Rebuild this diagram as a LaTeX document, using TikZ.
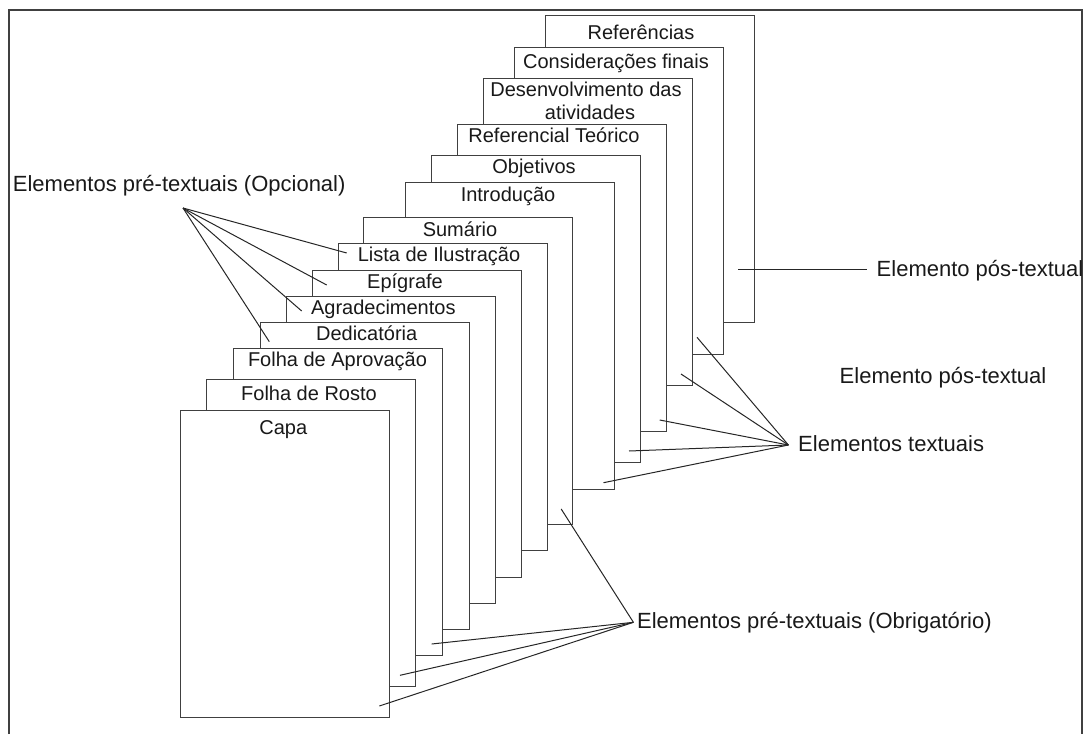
\documentclass[tikz,border=0pt]{standalone}
\usepackage{fontspec}
\setmainfont{Liberation Sans}
\begin{document}
\begin{tikzpicture}[x=1pt,y=-1pt,
  page/.style={draw=black!75, line width=1.1pt, fill=white, inner sep=0pt, anchor=north west, minimum width=209pt, minimum height=307pt},
  plabel/.style={font=\fontsize{20}{24}\selectfont, anchor=base, inner sep=0pt, text=black!90},
  clabel/.style={font=\fontsize{22}{26}\selectfont, anchor=base west, inner sep=0pt, text=black!90},
  conn/.style={draw=black!85, line width=1pt},
  frame/.style={draw=black!75, line width=1.2pt}]
\useasboundingbox (0,0) rectangle (1084,734);
% outer frame (open at the bottom)
\draw[frame] (9,734) -- (9,10) -- (1082,10) -- (1082,734);

% pages, back to front
\node[page] (ref)  at (545,15)  {};
\node[page] (cons) at (514,47)  {};
\node[page] (dev)  at (483,78)  {};
\node[page] (reft) at (457,124) {};
\node[page] (obj)  at (431,155) {};
\node[page] (intr) at (405,182) {};
\node[page] (sum)  at (363,217) {};
\node[page] (lis)  at (338,243) {};
\node[page] (epi)  at (312,270) {};
\node[page] (agr)  at (286,296) {};
\node[page] (ded)  at (260,322) {};
\node[page] (apr)  at (233,348) {};
\node[page] (ros)  at (206,379) {};
\node[page] (capa) at (180,410) {};

% page labels
\node[plabel] (tref)  at (641,39.3)  {Referências};
\node[plabel] (tcons) at (616,68.3)  {Considerações finais};
\node[plabel] (tdev1) at (586,96.7)  {Desenvolvimento das};
\node[plabel] (tdev2) at (590,119.3) {atividades};
\node[plabel] (treft) at (554,142.7) {Referencial Teórico};
\node[plabel] (tobj)  at (534,173.3) {Objetivos};
\node[plabel] (tintr) at (508,201.7) {Introdução};
\node[plabel] (tsum)  at (460,236)   {Sumário};
\node[plabel] (tlis)  at (439,261.7) {Lista de Ilustração};
\node[plabel] (tepi)  at (405,288.3) {Epígrafe};
\node[plabel] (tagr)  at (383.3,314) {Agradecimentos};
\node[plabel] (tded)  at (366.7,340) {Dedicatória};
\node[plabel] (tapr)  at (337.5,366.7) {Folha de Aprovação};
\node[plabel] (tros)  at (309,400.7) {Folha de Rosto};
\node[plabel] (tcapa) at (283.3,434.3) {Capa};

% callout labels
\node[clabel] (opc)  at (12.7,191.7) {Elementos pré-textuais (Opcional)};
\node[clabel] (txt)  at (798,451.7)  {Elementos textuais};
\node[clabel] (pos1) at (876.5,276)  {Elemento pós-textual};
\node[clabel] (pos2) at (839.5,383.3) {Elemento pós-textual};
\node[clabel] (obr)  at (636.9,628.3) {Elementos pré-textuais (Obrigatório)};

% connector apexes and ends
\coordinate (opcA) at (183,208);
\coordinate (o1) at (346.7,253);
\coordinate (o2) at (326.7,285);
\coordinate (o3) at (301.7,311);
\coordinate (o4) at (269.3,341.7);

\coordinate (txtA) at (788.4,445);
\coordinate (t1) at (697,337.3);
\coordinate (t2) at (681,374);
\coordinate (t3) at (659.7,420);
\coordinate (t4) at (629,451);
\coordinate (t5) at (603.5,482.7);

\coordinate (posA) at (866.8,269);
\coordinate (p1) at (738.3,269);

\coordinate (obrA) at (633.4,622.3);
\coordinate (b1) at (561.2,509);
\coordinate (b2) at (431.7,644);
\coordinate (b3) at (400,675.3);
\coordinate (b4) at (379.3,706);

\foreach \e in {o1,o2,o3,o4} \draw[conn] (opcA) -- (\e);
\foreach \e in {t1,t2,t3,t4,t5} \draw[conn] (txtA) -- (\e);
\draw[conn] (posA) -- (p1);
\foreach \e in {b1,b2,b3,b4} \draw[conn] (obrA) -- (\e);
\end{tikzpicture}
\end{document}
